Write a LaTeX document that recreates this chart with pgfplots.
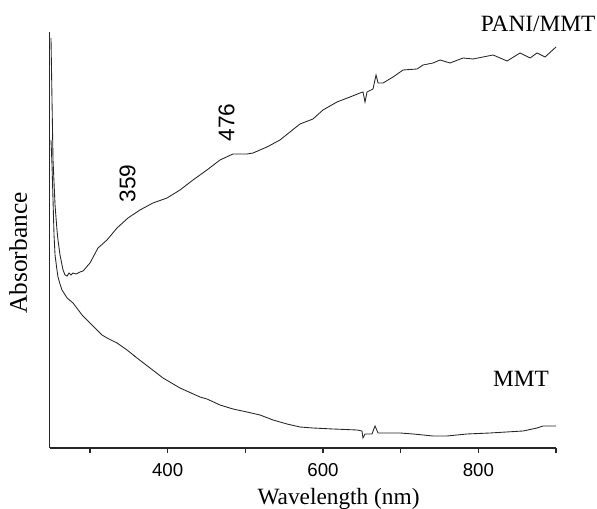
\documentclass[border=0pt]{standalone}
\usepackage{pgfplots}
\pgfplotsset{compat=1.18}
\usepackage{fontspec}
\setmainfont{Liberation Serif}
\newfontfamily\sansf{Liberation Sans}

% 1 px of the reference = 0.75pt
\begin{document}
\begin{tikzpicture}
\begin{axis}[
    scale only axis,
    width=379.8pt, height=312pt,
    xmin=248, xmax=900,
    ymin=0, ymax=416,
    axis x line=bottom, axis y line=left,
    axis line style={-, line width=0.9pt, black!85},
    xtick={300,400,500,600,700,800,900},
    xticklabels={,400,,600,,800,},
    ytick=\empty,
    tick align=outside,
    major tick length=3.75pt,
    tick style={line width=0.9pt, black!85},
    /pgf/number format/assume math mode=true,
    xticklabel style={font=\sansf\fontsize{14}{16}\selectfont, anchor=base, yshift=-18pt},
    clip=false,
]
% PANI/MMT
\addplot[line width=0.65pt, black!85, no markers] coordinates {
(249.8,410)(251.1,348)(252.4,288)(255.0,243)(257.5,218)(258.8,208)(261.4,193)
(264.0,183)(265.3,178)(267.9,173)(270.5,172)(273.1,175)(275.6,173)(278.2,175)
(282.1,174)(287.2,176)(291.1,177)(300.0,185)(310.3,200)(321.9,208)(334.8,220)
(348.9,230)(364.4,238)(381.1,245)(399.2,250)(415.9,258)(432.6,268)(450.6,278)
(467.4,288)(484.1,294)(502.1,294)(509.9,295)(527.9,301)(544.6,308)(557.5,316)
(570.4,324)(587.1,329)(600.0,338)(618.0,346)(634.8,351)(647.6,355)(651.5,356)
(654.1,346)(656.7,356)(664.4,359)(668.3,373)(670.9,365)(677.3,365)(690.2,371)
(703.1,378)(721.1,379)(728.8,383)(741.7,385)(750.7,388)(763.6,385)(780.3,390)
(793.2,389)(819.0,393)(837.0,387)(853.7,395)(866.6,390)(875.6,395)(885.9,391)
(900,401)
};
% MMT
\addplot[line width=0.65pt, black!85, no markers] coordinates {
(249.8,308)(251.1,283)(252.4,248)(253.7,213)(255.0,193)(257.5,178)(258.8,171)
(261.4,164)(264.0,158)(270.5,150)(278.2,145)(289.8,133)(300.0,125)(315.5,113)
(321.9,110)(334.8,105)(347.7,98)(360.5,90)(377.3,80)(394.0,70)(415.9,60)
(441.6,51)(450.6,49)(467.4,43)(484.1,39)(502.1,36)(518.9,33)(535.6,28)
(553.6,24)(570.4,21)(587.1,20)(612.9,19)(643.8,18)(650.2,17)(651.5,10)
(654.1,14)(663.1,14)(667.0,22)(670.9,15)(699.2,15)(716.0,14)(741.7,12)
(759.7,12)(785.5,14)(815.1,15)(857.6,17)(875.6,20)(883.3,22)(900,22)
};
\node[anchor=base, font=\fontsize{17.5}{20}\selectfont] at (axis cs:877,416) {PANI/MMT};
\node[anchor=base, font=\fontsize{17.5}{20}\selectfont] at (axis cs:855,61) {MMT};
\node[rotate=90, font=\sansf\fontsize{17}{20}\selectfont] at (axis cs:348.3,264.5) {359};
\node[rotate=90, font=\sansf\fontsize{17}{20}\selectfont] at (axis cs:475.8,325.5) {476};
\node[anchor=base, font=\fontsize{17.5}{20}\selectfont, yshift=-42.75pt] at (axis cs:620,0) {Wavelength (nm)};
\node[anchor=base, rotate=90, font=\fontsize{19}{22}\selectfont] at (axis cs:218.9,195) {Absorbance};
\coordinate (ll) at (rel axis cs:0,0);
\coordinate (ur) at (rel axis cs:1,1);
\end{axis}
\pgfresetboundingbox
\useasboundingbox ([shift={(-37.2pt,-45.75pt)}]ll) rectangle ([shift={(30.75pt,24pt)}]ur);
\end{tikzpicture}
\end{document}
